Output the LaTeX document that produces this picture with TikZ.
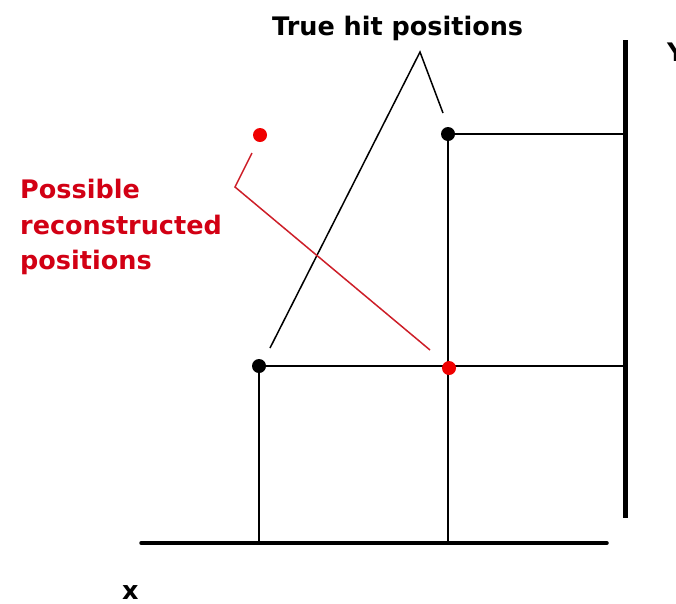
\documentclass[tikz,border=0pt]{standalone}
\usepackage{fontspec}
\setmainfont{DejaVu Sans}
\definecolor{hitred}{RGB}{240,0,0}
\definecolor{labelred}{RGB}{210,0,20}
\definecolor{leadred}{RGB}{205,30,40}
\begin{document}
\begin{tikzpicture}[x=1pt,y=-1pt,
  gridline/.style={line width=2.3pt,black},
  leader/.style={line width=1.5pt},
  dot/.style={circle,fill,inner sep=0pt,minimum size=14pt},
  lbl/.style={font=\fontsize{25.5}{35}\selectfont\bfseries,inner sep=0pt}]
\useasboundingbox (0,0) rectangle (676,603);
% axes
\coordinate (yt) at (625,40);
\coordinate (yb) at (625,518);
\coordinate (xl) at (141,543);
\coordinate (xr) at (607,543);
\draw[line width=5pt] (yt) -- (yb);
\draw[line width=3.5pt,line cap=round] (xl) -- (xr);
% hit positions
\coordinate (h1) at (259,366);
\coordinate (h2) at (448,134);
\coordinate (r1) at (449,368);
\coordinate (r2) at (260,135);
\coordinate (bot) at (0,541);
\draw[gridline] (h1) -- (h1 -| yt);
\draw[gridline] (h2) -- (h2 -| yt);
\draw[gridline] (h1) -- (h1 |- bot);
\draw[gridline] (h2) -- (h2 |- bot);
% leaders
\coordinate (bl1) at (270,348);
\coordinate (apex) at (420,52);
\coordinate (bl2) at (443,113);
\draw[leader] (bl1) -- (apex) -- (bl2);
\coordinate (rl1) at (252,153);
\coordinate (rl2) at (235,187);
\coordinate (rl3) at (430,350);
\draw[leader,leadred] (rl1) -- (rl2) -- (rl3);
% dots
\node[dot,black] (d1) at (h1) {};
\node[dot,black] (d2) at (h2) {};
\node[dot,hitred] (d3) at (r1) {};
\node[dot,hitred] (d4) at (r2) {};
% labels
\node[lbl,anchor=base west] (title) at (272,35) {True hit positions};
\node[lbl,labelred,anchor=base west] (p1) at (20,198) {Possible};
\node[lbl,labelred,anchor=base west] (p2) at (20,234) {reconstructed};
\node[lbl,labelred,anchor=base west] (p3) at (20,269) {positions};
\node[lbl,anchor=base west] (ylab) at (667,61) {Y};
\node[lbl,anchor=base west] (xlab) at (122,599) {x};
\end{tikzpicture}
\end{document}
